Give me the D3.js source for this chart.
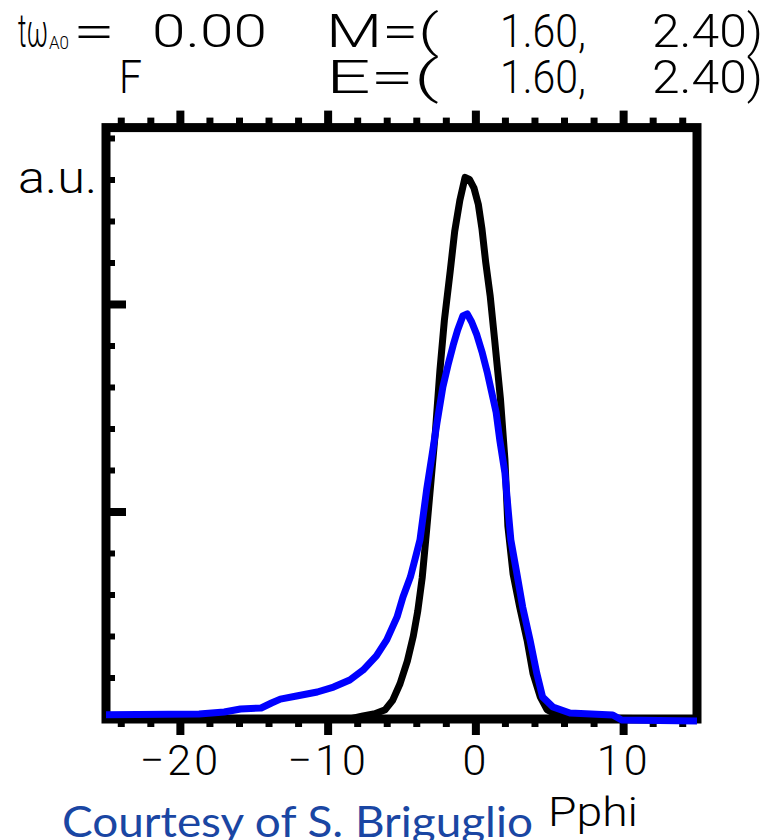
<!DOCTYPE html>
<html>
<head>
<meta charset="utf-8">
<script src="https://cdn.jsdelivr.net/npm/d3@7"></script>
<style>
  body { margin: 0; background: #fff; }
  text { font-family: Roboto, "Liberation Sans", sans-serif; font-weight: 300; fill: #000; }
</style>
</head>
<body>
<div id="chart"></div>
<script>
// Data (Pphi on x, distribution in a.u. on y)
const blackPphi = [-25, -8.5, -7.6, -6.8, -6.1, -5.6, -5.1, -4.6, -4.2, -3.9, -3.6, -3.3, -3.0, -2.7, -2.4, -2.1, -1.7, -1.4, -1.05, -0.7,
  -0.4, -0.1, 0.2, 0.45, 0.7, 1.0, 1.3, 1.7, 2.0, 2.2, 2.55, 3.0, 3.5, 3.9, 4.4, 4.85, 5.5, 6.7, 15];
const blackF = [0, 0, 0.015, 0.025, 0.045, 0.09, 0.17, 0.28, 0.4, 0.52, 0.68, 0.91, 1.15, 1.39, 1.68, 1.92, 2.16, 2.35, 2.5, 2.61,
  2.6, 2.56, 2.48, 2.36, 2.2, 2.04, 1.83, 1.54, 1.25, 0.93, 0.70, 0.54, 0.38, 0.22, 0.105, 0.045, 0.02, 0.005, 0];

const bluePphi = [-25, -18.7, -17.0, -15.9, -14.5, -13.8, -13.2, -12.1, -10.7, -9.6, -8.5, -7.6, -6.7, -6.0, -5.3, -4.9, -4.4, -4.1,
  -3.75, -3.3, -2.95, -2.6, -2.2, -1.85, -1.5, -1.2, -0.85, -0.55, -0.25, 0.1, 0.45, 0.8, 1.1, 1.4, 1.65, 2.0, 2.2, 2.4, 2.8, 3.2,
  3.7, 4.15, 4.55, 5.25, 6.4, 9.3, 9.9, 15];
const blueF = [0.02, 0.024, 0.034, 0.048, 0.053, 0.077, 0.096, 0.111, 0.13, 0.154, 0.188, 0.236, 0.304, 0.381, 0.492, 0.588, 0.684, 0.766,
  0.863, 1.104, 1.263, 1.427, 1.6, 1.706, 1.802, 1.875, 1.942, 1.952, 1.913, 1.851, 1.769, 1.672, 1.576, 1.48, 1.345, 1.186, 1.022, 0.863, 0.704, 0.54,
  0.381, 0.222, 0.106, 0.058, 0.029, 0.019, -0.005, -0.01];

// Ticks
const xMajor = [-20, -10, 0, 10];
const xMinor = [-24, -22, -18, -16, -14, -12, -8, -6, -4, -2, 2, 4, 6, 8, 12, 14];
const yMajor = [1, 2];
const yMinor = [0.2, 0.4, 0.6, 0.8, 1.2, 1.4, 1.6, 1.8, 2.2, 2.4, 2.6, 2.8];

// Header texts
const headerLine1 = [
  { t: 'tω', x: 18, len: 30 },
  { t: '=', x: 73, len: 42 },
  { t: '0.00', x: 152, len: 115 },
  { t: 'M=(', x: 326, len: 113 },
  { t: '1.60,', x: 500, len: 86 },
  { t: '2.40)', x: 652, len: 111 }
];
const headerLine2 = [
  { t: 'F', x: 119, len: 23 },
  { t: 'E=(', x: 326, len: 113 },
  { t: '1.60,', x: 500, len: 86 },
  { t: '2.40)', x: 652, len: 111 }
];

const W = 765, H = 840;
const svg = d3.select('#chart').append('svg')
  .attr('width', W)
  .attr('height', H);

// Scales
const x = d3.scaleLinear().domain([-25, 15]).range([106, 697]);
const y = d3.scaleLinear().domain([0, 2.85]).range([719, 127.6]);

// Frame
svg.append('rect')
  .attr('x', x(-25)).attr('y', y(2.85))
  .attr('width', x(15) - x(-25)).attr('height', y(0) - y(2.85))
  .attr('fill', 'none').attr('stroke', '#000').attr('stroke-width', 9);

function styleAxis(g, w) {
  g.select('.domain').remove();
  g.selectAll('line').attr('stroke', '#000').attr('stroke-width', w);
}

// Bottom ticks (outward)
svg.append('g').attr('transform', `translate(0,${y(0)})`)
  .call(d3.axisBottom(x).tickValues(xMajor).tickSize(16).tickFormat(''))
  .call(g => styleAxis(g, 8));
svg.append('g').attr('transform', `translate(0,${y(0)})`)
  .call(d3.axisBottom(x).tickValues(xMinor).tickSize(8).tickFormat(''))
  .call(g => styleAxis(g, 7));

// Top ticks (outward)
svg.append('g').attr('transform', `translate(0,${y(2.85)})`)
  .call(d3.axisTop(x).tickValues(xMajor).tickSize(17).tickFormat(''))
  .call(g => styleAxis(g, 8));
svg.append('g').attr('transform', `translate(0,${y(2.85)})`)
  .call(d3.axisTop(x).tickValues(xMinor).tickSize(10).tickFormat(''))
  .call(g => styleAxis(g, 7));

// Left ticks (inward)
svg.append('g').attr('transform', `translate(${x(-25)},0)`)
  .call(d3.axisRight(y).tickValues(yMajor).tickSize(20).tickFormat(''))
  .call(g => styleAxis(g, 8));
svg.append('g').attr('transform', `translate(${x(-25)},0)`)
  .call(d3.axisRight(y).tickValues(yMinor).tickSize(9).tickFormat(''))
  .call(g => styleAxis(g, 6));

// X tick labels
svg.append('g').attr('transform', `translate(0,${y(0)})`)
  .call(d3.axisBottom(x).tickValues(xMajor).tickSize(0))
  .call(g => {
    g.select('.domain').remove();
    g.selectAll('text')
      .attr('y', 56).attr('dy', null)
      .attr('font-size', 43)
      .attr('letter-spacing', 3)
      .attr('fill', '#000')
      .style('font-family', 'Roboto, sans-serif')
      .style('font-weight', 300);
  });

// Curves
const line = d3.line()
  .x(d => x(d[0]))
  .y(d => y(d[1]));

svg.append('path')
  .datum(d3.zip(blackPphi, blackF))
  .attr('d', line)
  .attr('fill', 'none')
  .attr('stroke', '#000')
  .attr('stroke-width', 7)
  .attr('stroke-linejoin', 'round');

svg.append('path')
  .datum(d3.zip(bluePphi, blueF))
  .attr('d', line)
  .attr('fill', 'none')
  .attr('stroke', '#0000ff')
  .attr('stroke-width', 7)
  .attr('stroke-linejoin', 'round');

// Header
function header(rows, baseline) {
  svg.append('g').selectAll('text')
    .data(rows)
    .join('text')
    .attr('x', d => d.x)
    .attr('y', baseline)
    .attr('font-size', 47)
    .attr('textLength', d => d.len)
    .attr('lengthAdjust', 'spacingAndGlyphs')
    .text(d => d.t);
}
header(headerLine1, 47);
header(headerLine2, 93);

svg.append('text')
  .attr('x', 49).attr('y', 49)
  .attr('font-size', 18)
  .attr('textLength', 20)
  .attr('lengthAdjust', 'spacingAndGlyphs')
  .text('A0');

// Axis titles
svg.append('text')
  .attr('x', 18).attr('y', 193)
  .attr('font-size', 44)
  .attr('textLength', 79)
  .attr('lengthAdjust', 'spacingAndGlyphs')
  .text('a.u.');

svg.append('text')
  .attr('x', 548).attr('y', 826)
  .attr('font-size', 40)
  .attr('textLength', 90)
  .attr('lengthAdjust', 'spacingAndGlyphs')
  .text('Pphi');

// Credit
svg.append('text')
  .attr('x', 62).attr('y', 837)
  .attr('font-size', 43)
  .attr('textLength', 471)
  .attr('lengthAdjust', 'spacingAndGlyphs')
  .style('font-family', 'Lato, "Open Sans", sans-serif')
  .style('font-weight', 400)
  .style('fill', '#1a46a3')
  .text('Courtesy of S. Briguglio');
</script>
</body>
</html>
